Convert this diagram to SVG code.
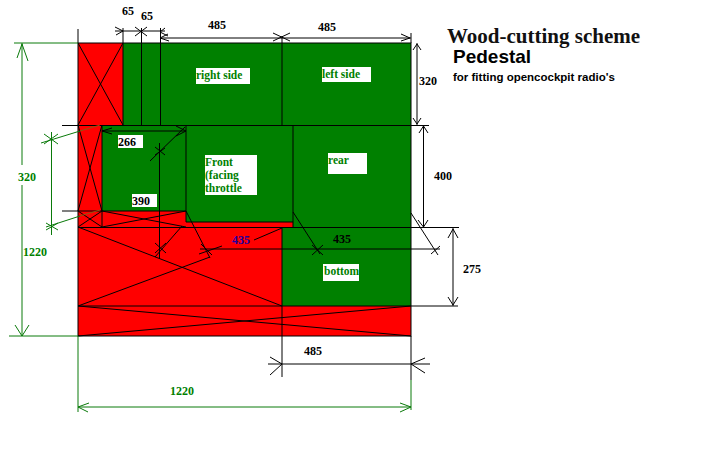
<svg xmlns="http://www.w3.org/2000/svg" width="720" height="450" viewBox="0 0 720 450">
<style>
.k{stroke:#000;stroke-width:1;fill:none}
.g{stroke:#0a7a0a;stroke-width:1;fill:none}
.t{font-family:"Liberation Serif",serif;font-weight:bold;font-size:12px;fill:#000}
.l{font-family:"Liberation Serif",serif;font-weight:bold;font-size:11.5px;fill:#008000}
.s{font-family:"Liberation Sans",sans-serif;font-weight:bold;fill:#000}
</style>
<rect width="720" height="450" fill="#fff"/>
<g id="sheet">
<rect x="78" y="43" width="333" height="293" fill="#ff0000"/>
<rect x="123" y="43" width="288" height="82" fill="#008000"/>
<rect x="102" y="125" width="84" height="86" fill="#008000"/>
<rect x="186" y="125" width="107" height="97" fill="#008000"/>
<rect x="293" y="125" width="118" height="103" fill="#008000"/>
<rect x="282" y="228" width="129" height="78" fill="#008000"/>
<rect x="78" y="43" width="333" height="293" class="k"/>
</g>
<g id="connectors">
<path class="k" d="M78 29V43M123 28V125M141.500 28V125M160.500 28V125M282 36V125M411 33V43M62 125.500H429M293 125V228M186 125V222M102 125V227M186 222H293M62 211H186M78 227.500H459M78 306H458M282 228V377M411 336V380"/>
<path class="k" d="M78 43L123 125M123 43L78 125M78 125L102 211M102 125L78 211M78 227L102 211M78 211L102 227M102 211L186 227M102 227L186 211M78 227L282 306M78 306L210 257M254 240L282 228M78 306L411 336M78 336L411 306"/>
<path class="k" d="M115 31H165M115 27L123 31L116 35M135 27L147 36M147 27L135 36M165 28L160 32L168 36M160 38H411M160 38L168 34M160 38L169 41M273 33L290 41M273 41L290 33M401 34L410 38L401 41"/>
<path class="k" d="M417 43V125M413 50L417 44L421 50M413 118L417 124L421 118M423.500 125V228M419 133L423.500 126L428 133M418 220L423.500 227L428 220M453 228V306M448 238L453 229L458 238M448 297L453 305L458 297"/>
<path class="k" d="M102 131H186M102 131L112 128M102 131L112 134M186 131L176 126M186 131L176 136M150 161L185 127M159.500 143V259M155 147L165 155M155 155L165 148M155 257L182 226M155 243L166 253M155 253L166 243M186 211L210 258M199 254L222 246M200 249H440M201 244L212 255M293 212L320 254M312 255L323 245M312 245L323 255M411 213L438 255M431 254L440 246M282 364H411M268 364H282M270 357L282 364L270 375M411 364H430M411 364L425 358M411 364L425 373"/>
<path class="g" d="M14 43H78M22 43V165M22 185V336M22 44L17 58M22 44L28 61M22 336L15 325M22 336L29 325M9 336H78M78 336V412M78 407H411M78 407L89 403M78 407L88 412M411 380V410M411 407L400 403M411 407L400 412M51.500 132V235M41 143L80 131M46 227L80 216M44 134L58 144M44 144L58 134M46 223L58 230M46 230L58 223"/>
<path d="M80 131L100 125M80 216L100 210" stroke="#8a5a10" stroke-width="1" fill="none"/>
</g>
<g id="labels">
<rect x="196" y="68" width="54" height="16" fill="#fff"/>
<text class="l" x="196" y="79">right side</text>
<rect x="322" y="67" width="49" height="15" fill="#fff"/>
<text class="l" x="322" y="78">left side</text>
<rect x="205" y="155" width="52" height="40" fill="#fff"/>
<text class="l" x="205" y="166">Front</text>
<text class="l" x="205" y="179">(facing</text>
<text class="l" x="205" y="192">throttle</text>
<rect x="328" y="153" width="39" height="21" fill="#fff"/>
<text class="l" x="328" y="164">rear</text>
<rect x="323" y="264" width="36" height="17" fill="#fff"/>
<text class="l" x="324" y="275">bottom</text>
<rect x="118" y="135" width="25" height="13" fill="#fff"/>
<text class="t" x="118" y="146">266</text>
<rect x="132" y="194" width="25" height="13" fill="#fff"/>
<text class="t" x="132" y="205">390</text>
<text class="t" x="122" y="15">65</text>
<text class="t" x="141" y="20">65</text>
<text class="t" x="208" y="29">485</text>
<text class="t" x="318" y="31">485</text>
<text class="t" x="419" y="85">320</text>
<text class="t" x="434" y="180">400</text>
<text class="t" x="333" y="243">435</text>
<text class="t" x="232" y="244" style="fill:#2000a0">435</text>
<text class="t" x="463" y="273">275</text>
<text class="t" x="304" y="355">485</text>
<text class="l" x="18" y="181" style="font-size:12px">320</text>
<text class="l" x="23" y="256" style="font-size:12px">1220</text>
<text class="l" x="170" y="395" style="font-size:12px">1220</text>
<text x="447" y="43" style="font-family:'Liberation Serif',serif;font-weight:bold;font-size:21px;fill:#111">Wood-cutting scheme</text>
<text class="s" x="453" y="63" font-size="19">Pedestal</text>
<text class="s" x="453" y="81" font-size="11.500">for fitting opencockpit radio's</text>
</g>
</svg>
